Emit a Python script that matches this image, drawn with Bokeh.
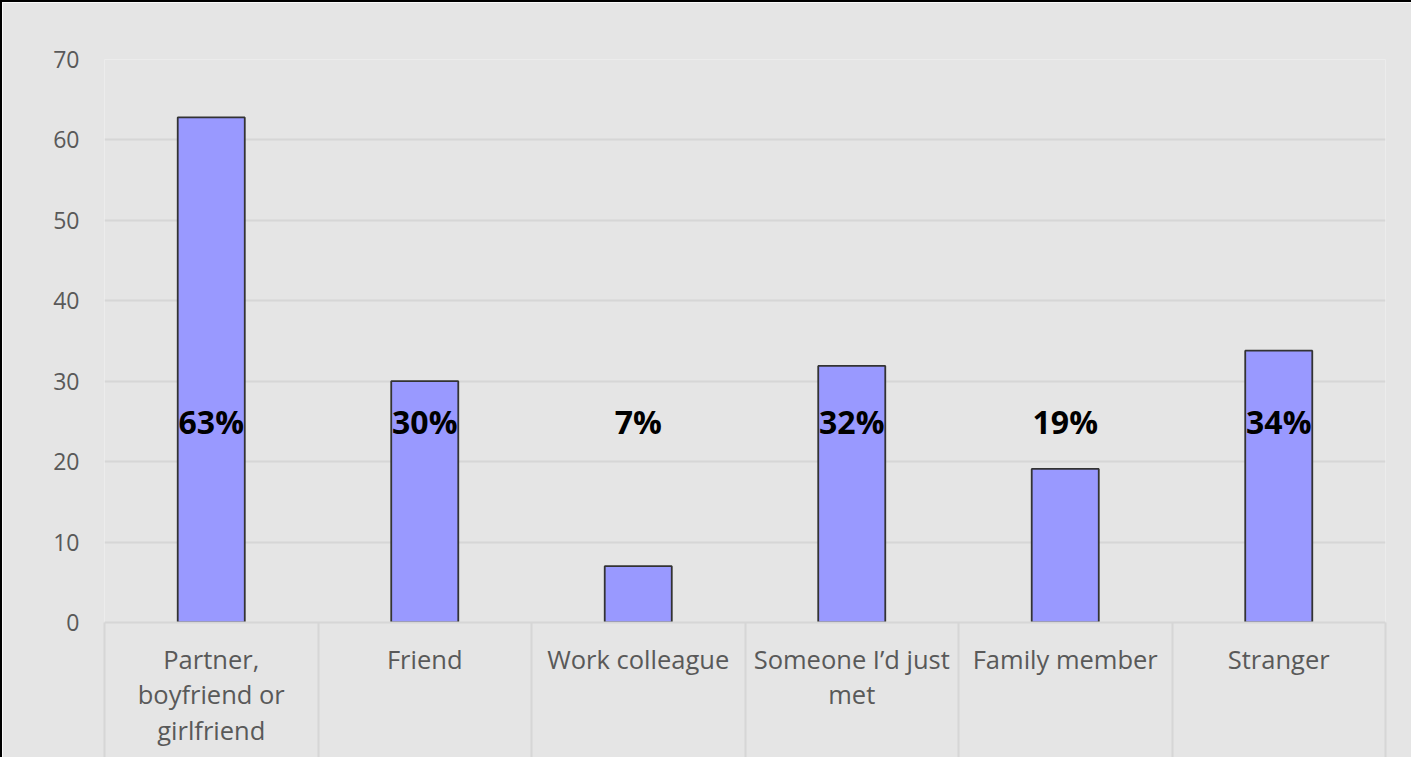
from bokeh.plotting import figure
from bokeh.models import ColumnDataSource, Range1d, FixedTicker
from bokeh.core.properties import value
from bokeh.embed import file_html
from bokeh.resources import INLINE

categories = ["Partner,\nboyfriend or\ngirlfriend", "Friend", "Work colleague",
              "Someone I\u2019d just\nmet", "Family member", "Stranger"]
values = [62.8, 30.0, 7.0, 31.9, 19.1, 33.8]
labels = ["63%", "30%", "7%", "32%", "19%", "34%"]
y_ticks = [0, 10, 20, 30, 40, 50, 60, 70]

xs = [i + 0.5 for i in range(len(categories))]
label_y = [25] * len(categories)

src = ColumnDataSource(dict(x=xs, top=values, label=labels, ly=label_y))

BG = "#e5e5e5"
p = figure(width=1411, height=757, output_backend="svg", toolbar_location=None,
           x_range=Range1d(0, len(categories)), y_range=Range1d(0, 70),
           min_border_left=102, min_border_right=28, min_border_top=57, min_border_bottom=137,
           background_fill_color=BG, border_fill_color=BG)
p.outline_line_color = None
p.styles = {"border-left": "2px solid #000000", "border-top": "2px solid #000000"}

p.vbar(x="x", top="top", width=0.314, bottom=0, source=src,
       fill_color="#9999ff", line_color="#333333", line_width=1.8)

p.text(x="x", y="ly", text="label", source=src, text_align="center", text_baseline="middle",
       text_font=value("Open Sans"), text_font_style="bold", text_font_size="32px",
       text_color="#000000")

# x axis
xa = p.xaxis[0]
xa.ticker = FixedTicker(ticks=xs, minor_ticks=list(range(len(categories) + 1)))
xa.major_label_overrides = {x: c for x, c in zip(xs, categories)}
xa.major_tick_line_color = None
xa.major_tick_out = 0
xa.major_tick_in = 0
xa.minor_tick_in = 0
xa.minor_tick_out = 140
xa.minor_tick_line_color = "#d6d6d6"
xa.minor_tick_line_width = 2
xa.axis_line_color = "#d6d6d6"
xa.axis_line_width = 2
xa.major_label_text_font = "Open Sans"
xa.major_label_text_font_size = "25.5px"
xa.major_label_text_color = "#595959"
xa.major_label_text_line_height = 1.05
xa.major_label_standoff = -121
xa.major_label_orientation = "horizontal"

# y axis
ya = p.yaxis[0]
ya.ticker = FixedTicker(ticks=y_ticks)
ya.axis_line_color = None
ya.major_tick_line_color = None
ya.major_tick_out = 0
ya.major_tick_in = 0
ya.minor_tick_line_color = None
ya.major_label_text_font = "Open Sans"
ya.major_label_text_font_size = "23px"
ya.major_label_text_color = "#595959"
ya.major_label_standoff = 25

p.xgrid.grid_line_color = None
p.ygrid.ticker = FixedTicker(ticks=y_ticks[1:])
p.ygrid.grid_line_color = "#d6d6d6"
p.ygrid.grid_line_width = 2

open("out.html", "w").write(file_html(p, INLINE))
